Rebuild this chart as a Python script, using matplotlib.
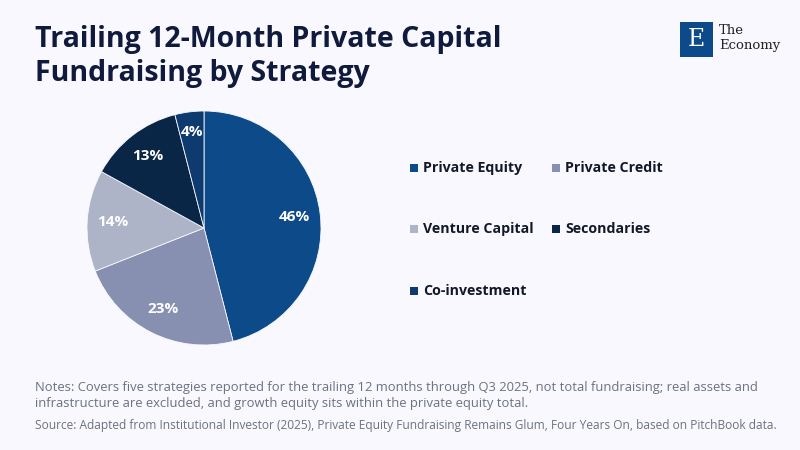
import matplotlib.pyplot as plt
from matplotlib.patches import Rectangle
import numpy as np

# --- data ---
strategies = ["Private Equity", "Private Credit", "Venture Capital", "Secondaries", "Co-investment"]
shares = [46, 23, 14, 13, 4]
colors = ["#0c4a89", "#8790b0", "#aeb4c8", "#0a2647", "#0d3b70"]

title = "Trailing 12-Month Private Capital\nFundraising by Strategy"
notes = ("Notes: Covers five strategies reported for the trailing 12 months through Q3 2025, not total fundraising; real assets and\n"
         "infrastructure are excluded, and growth equity sits within the private equity total.")
source = "Source: Adapted from Institutional Investor (2025), Private Equity Fundraising Remains Glum, Four Years On, based on PitchBook data."

bg = "#f8f8fe"
navy = "#0f1a3c"
grey = "#6b7280"

fig = plt.figure(figsize=(8, 4.5), dpi=100, facecolor=bg)

# title
fig.text(35 / 800, 1 - 25 / 450, title, fontsize=20.5, fontweight="bold", color=navy,
         family="Open Sans", va="top", linespacing=1.25)

# pie
ax = fig.add_axes([(204 - 117) / 800, 1 - (228 + 117) / 450, 234 / 800, 234 / 450])
ax.set_facecolor(bg)
wedges, texts = ax.pie(shares, colors=colors, startangle=90, counterclock=False,
                       wedgeprops=dict(linewidth=0.6, edgecolor=bg))
ax.set_aspect("equal")
ax.set_xlim(-1, 1)
ax.set_ylim(-1, 1)

# labels inside the wedges
total = sum(shares)
ang = 90
for s in shares:
    mid = ang - s / total * 360 / 2
    ang -= s / total * 360
    r = 0.78 if s > 5 else 0.83
    x = r * np.cos(np.radians(mid))
    y = r * np.sin(np.radians(mid))
    ax.text(x, y, f"{s}%", ha="center", va="center", color="white",
            fontsize=11, fontweight="bold", family="Open Sans")

# legend
leg_x = [410, 552]
leg_y = [168, 229, 291]
for i, (name, col) in enumerate(zip(strategies, colors)):
    cx = leg_x[i % 2]
    cy = leg_y[i // 2]
    fig.patches.append(Rectangle((cx / 800, 1 - (cy + 4) / 450), 8 / 800, 8 / 450,
                                 transform=fig.transFigure, facecolor=col, edgecolor="none"))
    fig.text((cx + 13) / 800, 1 - cy / 450, name, fontsize=10.2, fontweight="bold",
             color="#111827", family="Open Sans", va="center")

# notes and source
fig.text(35 / 800, 1 - 381 / 450, notes, fontsize=9.4, color=grey, family="Open Sans",
         va="top", linespacing=1.3)
fig.text(35 / 800, 1 - 425 / 450, source, fontsize=8.6, color=grey, family="Open Sans",
         va="center")

# logo
fig.patches.append(Rectangle((680 / 800, 1 - 57 / 450), 33 / 800, 35 / 450,
                             transform=fig.transFigure, facecolor="#0c4a89", edgecolor="none"))
fig.text(696 / 800, 1 - 40 / 450, "E", fontsize=17, color="white", family="DejaVu Serif",
         ha="center", va="center")
fig.text(719 / 800, 1 - 31 / 450, "The", fontsize=9.5, color="#222222", family="DejaVu Serif",
         va="center")
fig.text(719 / 800, 1 - 46 / 450, "Economy", fontsize=9.5, color="#222222", family="DejaVu Serif",
         va="center")

fig.savefig("out.png", dpi=100, facecolor=bg)
